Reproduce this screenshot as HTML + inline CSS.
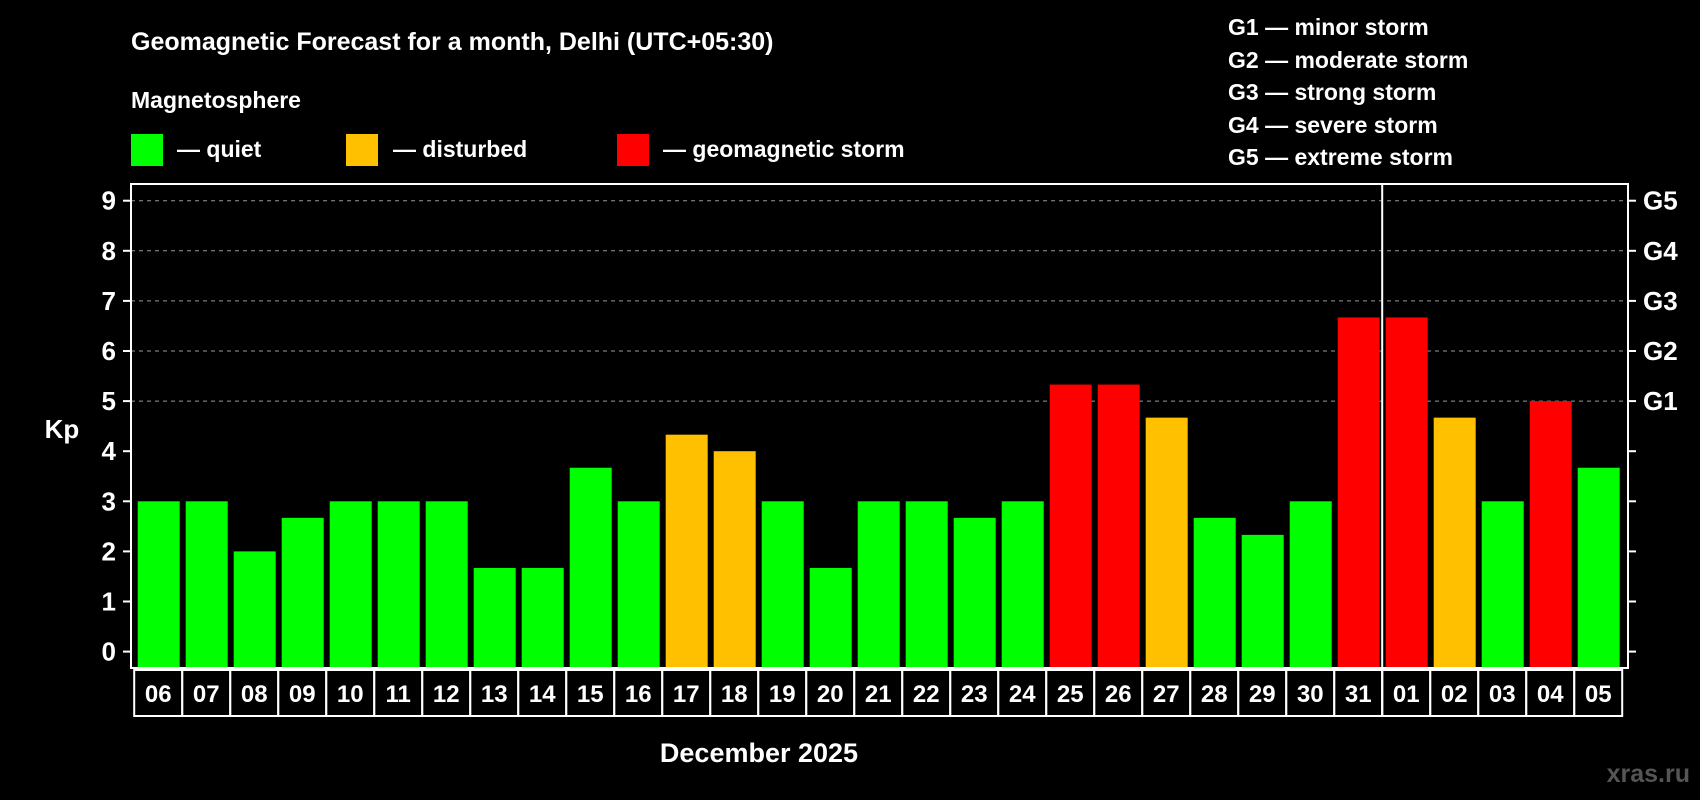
<!DOCTYPE html>
<html><head><meta charset="utf-8"><style>
html,body{margin:0;padding:0;background:#000;}
svg{display:block;font-family:"Liberation Sans",Arial,sans-serif;font-weight:bold;}
</style></head><body>
<svg id="c" width="1700" height="800" viewBox="0 0 1700 800">
<text x="131" y="50" fill="#fff" font-size="25">Geomagnetic Forecast for a month, Delhi (UTC+05:30)</text>
<text x="131" y="108" fill="#fff" font-size="23">Magnetosphere</text>
<g><rect x="131" y="134" width="32" height="32" fill="#00ff00"/><text x="177" y="157" fill="#fff" font-size="23">— quiet</text></g>
<g><rect x="346" y="134" width="32" height="32" fill="#ffc000"/><text x="393" y="157" fill="#fff" font-size="23">— disturbed</text></g>
<g><rect x="617" y="134" width="32" height="32" fill="#ff0000"/><text x="663" y="157" fill="#fff" font-size="23">— geomagnetic storm</text></g>
<g fill="#fff" font-size="23">
<text x="1228" y="35">G1 — minor storm</text>
<text x="1228" y="68">G2 — moderate storm</text>
<text x="1228" y="100">G3 — strong storm</text>
<text x="1228" y="133">G4 — severe storm</text>
<text x="1228" y="165">G5 — extreme storm</text>
</g>
<text x="62" y="438" fill="#fff" font-size="26" text-anchor="middle">Kp</text>
<text x="759" y="762" fill="#fff" font-size="27" text-anchor="middle">December 2025</text>
<text x="1690" y="782" fill="#555" font-size="25" text-anchor="end">xras.ru</text>
<g id="plot"></g>
</svg>
<script>
const days = ["06","07","08","09","10","11","12","13","14","15","16","17","18","19","20","21","22","23","24","25","26","27","28","29","30","31","01","02","03","04","05"];
const kpValues = [3,3,2,2.67,3,3,3,1.67,1.67,3.67,3,4.33,4,3,1.67,3,3,2.67,3,5.33,5.33,4.67,2.67,2.33,3,6.67,6.67,4.67,3,5,3.67];
const yTicks = [0,1,2,3,4,5,6,7,8,9];
const gLabels = ["G1","G2","G3","G4","G5"];
const gLevels = [5,6,7,8,9];

const NS="http://www.w3.org/2000/svg";
const g=document.getElementById('plot');
const L=131,R=1628,T=184,B=668;
const y0=651.6,unit=50.1;
const x0=137.7,pitch=48.0,bw=42;
const yS=v=>y0-v*unit;
const xS=i=>x0+i*pitch;
function mk(tag,attrs,name){const e=document.createElementNS(NS,tag);for(const k in attrs)e.setAttribute(k,attrs[k]);g.appendChild(e);return e;}
function color(v){return v>=5?'#ff0000':(v>=4?'#ffc000':'#00ff00');}

gLevels.forEach(v=>{
  const e=mk('line',{x1:L,x2:R,y1:yS(v),y2:yS(v),stroke:'#999','stroke-width':1,'stroke-dasharray':'4,4'});
  
  
});
kpValues.forEach((v,i)=>{
  const e=mk('rect',{x:xS(i),y:yS(v),width:bw,height:B-yS(v),fill:color(v)});
  
  
});
const fr=mk('rect',{x:L,y:T,width:R-L,height:B-T,fill:'none',stroke:'#fff','stroke-width':2});


yTicks.forEach(v=>{
  const y=yS(v);
  mk('line',{x1:L-8,x2:L,y1:y,y2:y,stroke:'#fff','stroke-width':2});
  mk('line',{x1:R,x2:R+8,y1:y,y2:y,stroke:'#fff','stroke-width':2});
  const t=mk('text',{x:L-15,y:y+9,fill:'#fff','font-size':26,'text-anchor':'end'});
  t.textContent=v;
  
  
});
gLevels.forEach((v,i)=>{
  const t=mk('text',{x:R+15,y:yS(v)+9,fill:'#fff','font-size':26});
  t.textContent=gLabels[i];
  
  
});
days.forEach((d,i)=>{
  const bx=xS(i)-3.5;
  const r=mk('rect',{x:bx,y:670,width:pitch,height:46,fill:'none',stroke:'#fff','stroke-width':2});
  
  
  const t=mk('text',{x:bx+pitch/2,y:702,fill:'#fff','font-size':24,'text-anchor':'middle'});
  t.textContent=d;
  
  
});
const divX=xS(26)-3.5;
const dv=mk('line',{x1:divX,x2:divX,y1:T,y2:716,stroke:'#fff','stroke-width':2});


</script>
</body></html>
